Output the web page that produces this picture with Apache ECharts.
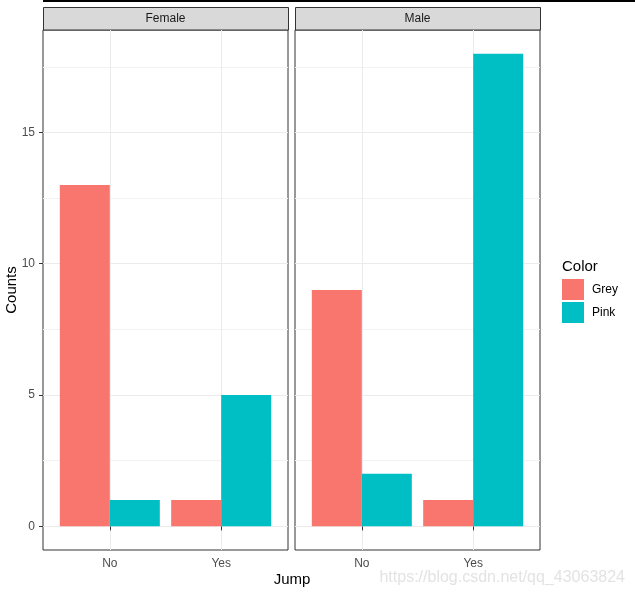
<!DOCTYPE html>
<html>
<head>
<meta charset="utf-8">
<script src="https://cdn.jsdelivr.net/npm/echarts@6/dist/echarts.min.js"></script>
<style>
html,body{margin:0;padding:0;background:#fff;}
#c{width:635px;height:595px;}
</style>
</head>
<body>
<div id="c"></div>
<script>
// ---- data ----
var panels = ['Female', 'Male'];
var jumpLabels = ['No', 'Yes'];
var colorGroups = ['Grey', 'Pink'];
var femaleGrey = [13, 1];
var femalePink = [1, 5];
var maleGrey = [9, 1];
var malePink = [2, 18];
var yTicks = [0, 5, 10, 15];
var yMinor = [2.5, 7.5, 12.5, 17.5];

var FONT = 'Liberation Sans, Arial, sans-serif';
var barColors = {Grey: '#F8766D', Pink: '#00BFC4'};

var panelBoxes = [
  {left: 43, top: 30, width: 245, height: 520},
  {left: 295, top: 30, width: 245, height: 520}
];

function pts(vals) { return vals.map(function (v, i) { return [i + 1, v]; }); }

var grids = [], xAxes = [], yAxes = [], series = [];
var panelData = [[femaleGrey, femalePink], [maleGrey, malePink]];

panelBoxes.forEach(function (b, p) {
  grids.push({left: b.left, top: b.top, width: b.width, height: b.height,
    show: true, borderColor: '#333333', borderWidth: 1, backgroundColor: '#fff',
    containLabel: false, outerBoundsMode: 'none'});
  xAxes.push({
    type: 'value', gridIndex: p, min: 0.4, max: 2.6,
    axisLine: {show: false},
    axisTick: {show: true, customValues: [1, 2], length: 4, lineStyle: {color: '#333333'}},
    axisLabel: {show: true, customValues: [1, 2], margin: 8, color: '#4d4d4d', fontSize: 12, fontFamily: FONT,
      formatter: function (v) { return jumpLabels[Math.round(v) - 1] || ''; }},
    splitLine: {show: true, lineStyle: {color: '#ebebeb', width: 1}}
  });
  // major y axis
  yAxes.push({
    type: 'value', gridIndex: p, min: -0.9, max: 18.9,
    axisLine: {show: false},
    axisTick: {show: p === 0, customValues: yTicks, length: 4, lineStyle: {color: '#333333'}},
    axisLabel: {show: p === 0, customValues: yTicks, margin: 8, color: '#4d4d4d', fontSize: 12, fontFamily: FONT},
    splitLine: {show: true, lineStyle: {color: '#ebebeb', width: 1}}
  });
  // minor y gridlines
  yAxes.push({
    type: 'value', gridIndex: p, min: -0.9, max: 18.9,
    axisLine: {show: false},
    axisTick: {show: false, customValues: yMinor},
    axisLabel: {show: false, customValues: yMinor},
    splitLine: {show: true, lineStyle: {color: '#f2f2f2', width: 1}}
  });
});

panelData.forEach(function (pair, p) {
  colorGroups.forEach(function (g, gi) {
    series.push({
      type: 'bar', name: g, xAxisIndex: p, yAxisIndex: p * 2,
      data: pts(pair[gi]), barWidth: 50, barGap: '0%',
      itemStyle: {color: barColors[g]}, silent: true, z: 3
    });
  });
});

var graphics = [
  {type: 'rect', shape: {x: 43, y: 0, width: 592, height: 2}, style: {fill: '#000'}}
];
panelBoxes.forEach(function (b, p) {
  graphics.push({type: 'rect', shape: {x: b.left + 0.5, y: 7.5, width: b.width, height: 22.5},
    style: {fill: '#d9d9d9', stroke: '#333333', lineWidth: 1}});
  graphics.push({type: 'text', x: b.left + b.width / 2, y: 19,
    style: {text: panels[p], fill: '#1a1a1a', font: '12px ' + FONT, textAlign: 'center', textVerticalAlign: 'middle'}});
});
graphics.push({type: 'text', x: 12, y: 290, rotation: Math.PI / 2,
  style: {text: 'Counts', fill: '#000', font: '15px ' + FONT, textAlign: 'center', textVerticalAlign: 'middle'}});
graphics.push({type: 'text', x: 292, y: 580,
  style: {text: 'Jump', fill: '#000', font: '15px ' + FONT, textAlign: 'center', textVerticalAlign: 'middle'}});
graphics.push({type: 'text', x: 562, y: 267,
  style: {text: 'Color', fill: '#000', font: '15px ' + FONT, textAlign: 'left', textVerticalAlign: 'middle'}});
graphics.push({type: 'text', x: 625, y: 578,
  style: {text: 'https://blog.csdn.net/qq_43063824', fill: '#e3e3e3', font: '16px ' + FONT, textAlign: 'right', textVerticalAlign: 'middle'}});

var chart = echarts.init(document.getElementById('c'), null, {renderer: 'canvas'});
chart.setOption({
  animation: false,
  backgroundColor: '#fff',
  grid: grids,
  xAxis: xAxes,
  yAxis: yAxes,
  legend: {
    data: colorGroups, orient: 'vertical', left: 562, top: 279,
    itemWidth: 22, itemHeight: 21, itemGap: 2, icon: 'rect', selectedMode: false,
    padding: 0,
    textStyle: {color: '#000', fontSize: 12, fontFamily: FONT, padding: [0, 0, 0, 3]}
  },
  series: series,
  graphic: graphics
});
</script>
</body>
</html>
